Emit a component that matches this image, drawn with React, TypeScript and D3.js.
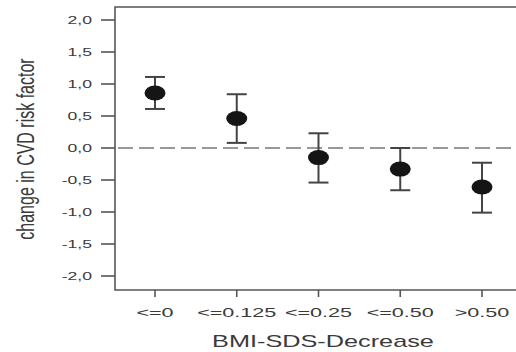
import React from "react";
import * as d3 from "d3";

const categories = ["<=0", "<=0.125", "<=0.25", "<=0.50", ">0.50"];
const means = [0.86, 0.46, -0.15, -0.33, -0.61];
const upper = [1.11, 0.84, 0.23, 0.0, -0.23];
const lower = [0.61, 0.08, -0.54, -0.66, -1.01];
const yTicks = [-2, -1.5, -1, -0.5, 0, 0.5, 1, 1.5, 2];
const xTitle = "BMI-SDS-Decrease";
const yTitle = "change in CVD risk factor";

const W = 516;
const H = 352;
const boxLeft = 115;
const boxTop = 7;
const boxBottom = 290;
const boxRight = 530;

const FONT = "'Liberation Sans', Arial, Helvetica, sans-serif";
const TEXT = "#3a3a3a";
const AXIS = "#555";

export default function App() {
  const y = d3.scaleLinear().domain([-2, 2]).range([276, 20]);
  const x = d3.scalePoint<string>().domain(categories).range([155, 482]);
  const fmt = (v: number) => d3.format(".1f")(v).replace(".", ",").replace("−", "-");

  return (
    <svg
      width={W}
      height={H}
      style={{ position: "absolute", left: 0, top: 0, background: "#fff" }}
    >
      {/* box */}
      <path
        d={`M${boxRight},${boxTop}H${boxLeft}V${boxBottom}H${boxRight}`}
        fill="none"
        stroke={AXIS}
        strokeWidth={1.6}
      />
      {/* y ticks */}
      {yTicks.map((t) => (
        <g key={t}>
          <line x1={101} x2={boxLeft} y1={y(t)} y2={y(t)} stroke={AXIS} strokeWidth={1.6} />
          <text
            transform={`translate(92,${y(t) + 4}) scale(1.6,1)`}
            textAnchor="end"
            fontFamily={FONT}
            fontSize={11}
            fill={TEXT}
          >
            {fmt(t)}
          </text>
        </g>
      ))}
      {/* zero line */}
      <line
        x1={boxLeft + 3}
        x2={W}
        y1={y(0)}
        y2={y(0)}
        stroke="#777"
        strokeWidth={1.6}
        strokeDasharray="15 6"
      />
      {/* x ticks */}
      {categories.map((c) => (
        <g key={c}>
          <line x1={x(c)} x2={x(c)} y1={boxBottom} y2={boxBottom + 7} stroke={AXIS} strokeWidth={1.6} />
          <text
            transform={`translate(${x(c)},${boxBottom + 27}) scale(1.6,1)`}
            textAnchor="middle"
            fontFamily={FONT}
            fontSize={13.5}
            fill={TEXT}
          >
            {c}
          </text>
        </g>
      ))}
      {/* error bars and points */}
      {categories.map((c, i) => {
        const cx = x(c)!;
        return (
          <g key={"p" + c}>
            <line x1={cx} x2={cx} y1={y(upper[i])} y2={y(lower[i])} stroke="#444" strokeWidth={2} />
            <line x1={cx - 10} x2={cx + 10} y1={y(upper[i])} y2={y(upper[i])} stroke="#444" strokeWidth={2} />
            <line x1={cx - 10} x2={cx + 10} y1={y(lower[i])} y2={y(lower[i])} stroke="#444" strokeWidth={2} />
            <ellipse cx={cx} cy={y(means[i])} rx={10.5} ry={7.5} fill="#151515" />
          </g>
        );
      })}
      {/* axis titles */}
      <text
        transform={`translate(323,347) scale(1.58,1)`}
        textAnchor="middle"
        fontFamily={FONT}
        fontSize={16}
        fill={TEXT}
      >
        {xTitle}
      </text>
      <text
        transform={`translate(34,149) scale(1.55,1) rotate(-90)`}
        textAnchor="middle"
        fontFamily={FONT}
        fontSize={16}
        fill={TEXT}
      >
        {yTitle}
      </text>
    </svg>
  );
}
